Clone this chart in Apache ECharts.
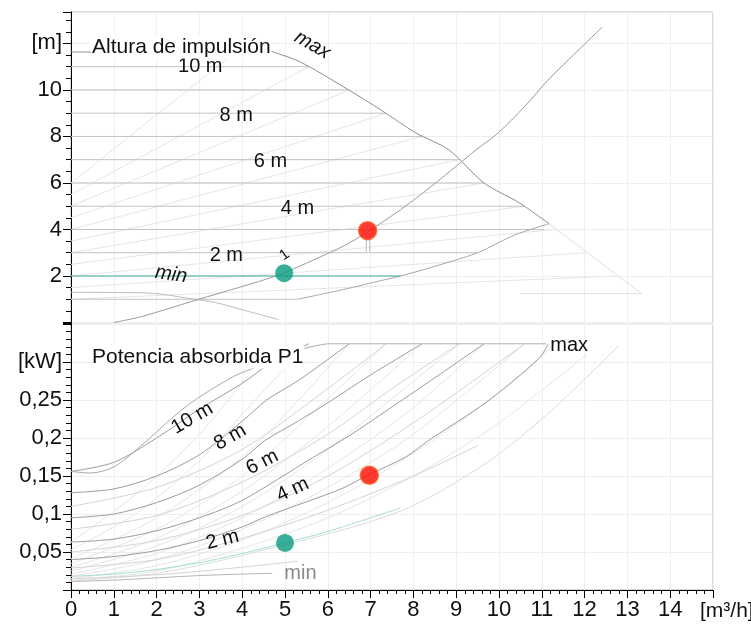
<!DOCTYPE html>
<html>
<head>
<meta charset="utf-8">
<script src="https://cdn.jsdelivr.net/npm/echarts@6/dist/echarts.min.js"></script>
<style>
  html, body { margin: 0; padding: 0; background: #fff; }
  #chart { width: 751px; height: 626px; }
</style>
</head>
<body>
<div id="chart"></div>
<script>
// ---------- Head panel: H [m] over Q [m³/h] ----------
// constant-pressure set points and the flow where each line ends
const constHeads = [1, 2, 3, 4, 5, 6, 7, 8, 9, 10, 11];
const constHeadEndFlow = [5.3, 7.7, 9.5, 11.05, 10.6, 9.65, 9.07, 8.2, 7.36, 6.5, 5.55];

// variable-pressure lines: head at zero flow, set head, flow at the set head
const varSetHeads = [2, 3, 4, 5, 6, 7, 8, 9, 10, 11, 12];
const varStartHeads = [1, 1.5, 2, 2.5, 3, 3.5, 4, 4.5, 5, 5.5, 6];
const varEndFlow = [12.75, 12.05, 11.3, 10.6, 9.65, 9.07, 8.2, 7.36, 6.5, 5.55, 4.1];

const maxHeadCurve = [[0, 11.63], [0.6, 11.63], [1.5, 12.0], [2.8, 12.19], [3.3, 12.2], [4.0, 12.1],
  [4.73, 11.63], [5.36, 11.2], [6.37, 10.13], [7.24, 9.14], [8.06, 8.15], [8.83, 7.42],
  [9.65, 6.0], [10.47, 5.15], [11.17, 4.25]];
const maxHeadExtension = [[11.17, 4.25], [13.33, 1.24]];
const lowHeadLimit = [[10.5, 1.24], [13.33, 1.24]];
const lowerBoundary = [[5.3, 1.0], [6.37, 1.42], [7.24, 1.8], [7.7, 2.0], [8.4, 2.36], [9.5, 3.0],
  [10.35, 3.75], [11.17, 4.25]];
const minHeadCurve = [[0, 1.3], [1, 1.29], [1.97, 1.25], [2.7, 1.05], [3.37, 0.86], [4.1, 0.5], [4.85, 0.13]];
const systemCurve = [[1.0, 0], [1.66, 0.26], [2.97, 0.99], [3.91, 1.5], [4.54, 1.85], [4.96, 2.12],
  [6.37, 3.29], [6.93, 3.9], [7.7, 4.85], [8.41, 5.84], [9.04, 6.78], [9.46, 7.42], [9.98, 8.15],
  [10.59, 9.27], [11.15, 10.43], [11.62, 11.29], [12.41, 12.7]];
const dutyStemA = [[6.9, 3.05], [6.9, 3.85]];
const dutyStemB = [[6.98, 3.05], [6.98, 3.85]];

const headPointMin = [4.98, 2.12];
const headPointDuty = [6.93, 3.95];

// ---------- Power panel: P1 [kW] over Q [m³/h] ----------
const powerMax = [[0, 0.156], [0.45, 0.154], [1.0, 0.162], [1.6, 0.188], [2.7, 0.242], [3.8, 0.281],
  [4.4, 0.295], [5.0, 0.309], [5.6, 0.32], [6.0, 0.324]];
const powerLimit = [[6.0, 0.324], [11.1, 0.324]];
const powerMin = [[0, 0.011], [1, 0.013], [2, 0.016], [3, 0.019], [4, 0.021], [4.7, 0.022]];
const power1m = [[0, 0.015], [2, 0.02], [4, 0.03], [5.3, 0.038]];
const power2m = [[0, 0.018], [1, 0.021], [2, 0.027], [3, 0.036], [4, 0.048], [5, 0.062], [6, 0.077], [7, 0.095], [7.7, 0.108]];
const power3m = [[0, 0.029], [2, 0.04], [4, 0.068], [6, 0.105], [8, 0.15], [9.5, 0.19]];
const power4m = [[0, 0.04], [1, 0.044], [2, 0.052], [3, 0.065], [4, 0.083], [4.55, 0.0965], [5.5, 0.116],
  [6.35, 0.134], [6.93, 0.151], [7.82, 0.175], [8.36, 0.197], [9.7, 0.247], [10.94, 0.305], [11.15, 0.324]];
const power5m = [[0, 0.05], [2, 0.065], [4, 0.098], [6, 0.15], [8, 0.22], [10.6, 0.324]];
const power6m = [[0, 0.063], [1, 0.067], [2, 0.078], [3, 0.095], [4, 0.118], [5.64, 0.174], [6.5, 0.203],
  [7.66, 0.247], [8.7, 0.287], [9.65, 0.324]];
const power7m = [[0, 0.08], [2, 0.098], [4, 0.142], [6, 0.205], [7.5, 0.265], [9.07, 0.324]];
const power8m = [[0, 0.095], [1, 0.1], [2, 0.115], [3, 0.138], [4, 0.172], [4.54, 0.197], [5.3, 0.222],
  [6.1, 0.25], [7, 0.283], [8.2, 0.324]];
const power9m = [[0, 0.11], [2, 0.135], [4, 0.185], [6, 0.265], [7.36, 0.324]];
const power10m = [[0, 0.128], [1, 0.133], [2, 0.15], [3, 0.178], [4, 0.222], [4.57, 0.25], [5.32, 0.276], [6.5, 0.324]];
const power11m = [[0, 0.156], [1, 0.168], [2, 0.2], [3, 0.238], [4, 0.272], [4.7, 0.3], [5.55, 0.324]];

const powerVar12 = [[0, 0.063], [1.5, 0.125], [3, 0.205], [4.1, 0.28]];
const powerVar11 = [[0, 0.053], [1.5, 0.1], [3, 0.17], [4.3, 0.25], [5.55, 0.324]];
const powerVar10 = [[0, 0.041], [2, 0.095], [4, 0.175], [5.4, 0.255], [6.5, 0.324]];
const powerVar9 = [[0, 0.035], [2, 0.08], [4, 0.15], [6, 0.252], [7.36, 0.324]];
const powerVar8 = [[0, 0.03], [2, 0.068], [4, 0.13], [6, 0.215], [8.2, 0.324]];
const powerVar7 = [[0, 0.025], [2, 0.058], [4, 0.11], [6, 0.185], [9.07, 0.324]];
const powerVar6 = [[0, 0.021], [2, 0.048], [4, 0.095], [6, 0.16], [8, 0.24], [9.65, 0.324]];
const powerVar5 = [[0, 0.018], [2, 0.04], [4, 0.08], [6, 0.135], [8, 0.205], [10.6, 0.324]];
const powerVar4 = [[0, 0.015], [2, 0.032], [4, 0.066], [6, 0.115], [8, 0.18], [10, 0.26], [11.3, 0.324]];
const powerVar3 = [[0, 0.013], [2, 0.025], [4, 0.055], [6, 0.095], [8, 0.15], [10, 0.22], [12.05, 0.31]];
const powerVar2 = [[0, 0.012], [2, 0.022], [4.54, 0.053], [7.66, 0.103], [9.7, 0.167], [11.3, 0.24], [12.8, 0.322]];

const powerPointMin = [5.0, 0.062];
const powerPointDuty = [6.97, 0.151];

// ---------- chart ----------
const FONT = "'Liberation Sans', Arial, Helvetica, sans-serif";
const TEAL = '#0a9a80';
const RED = '#ff0a00';
const RED_RING = '#ff5a1e';

function curve(data, panel, color, width, z, smooth) {
  return {
    type: 'line', xAxisIndex: panel, yAxisIndex: panel, data: data,
    symbol: 'none', silent: true, animation: false, clip: true,
    smooth: smooth ? 0.3 : false,
    lineStyle: { color: color, width: width || 1 }, z: z || 2
  };
}
function dot(point, panel, fill, border) {
  return {
    type: 'scatter', xAxisIndex: panel, yAxisIndex: panel, data: [point],
    symbolSize: 18, silent: true, animation: false, z: 10,
    itemStyle: { color: fill, borderColor: border || fill, borderWidth: border ? 1.5 : 0 }
  };
}

const series = [];
// head panel: variable-pressure lines (faint)
varSetHeads.forEach(function (h, i) {
  series.push(curve([[0, varStartHeads[i]], [varEndFlow[i], h]], 0, '#e6e6e6', 1, 1));
});
// head panel: constant-pressure lines
constHeads.forEach(function (h, i) {
  const isMin = h === 2;
  series.push(curve([[0, h], [constHeadEndFlow[i], h]], 0, isMin ? '#3aaa98' : '#c2c2c2', 1, isMin ? 4 : 2));
});
series.push(curve(maxHeadCurve, 0, '#8e8e8e', 1, 3, true));
series.push(curve(maxHeadExtension, 0, '#e0e0e0', 1, 2));
series.push(curve(lowHeadLimit, 0, '#e0e0e0', 1, 2));
series.push(curve(lowerBoundary, 0, '#a8a8a8', 1, 3, true));
series.push(curve(minHeadCurve, 0, '#bdbdbd', 1, 3, true));
series.push(curve(systemCurve, 0, '#9a9a9a', 1, 3, true));
series.push(curve(dutyStemA, 0, '#bbbbbb', 1, 3));
series.push(curve(dutyStemB, 0, '#bbbbbb', 1, 3));
series.push(dot(headPointMin, 0, TEAL));
series.push(dot(headPointDuty, 0, RED, RED_RING));

// power panel: variable-pressure power (faint)
[powerVar12, powerVar11, powerVar10, powerVar9, powerVar8, powerVar7, powerVar6, powerVar5,
  powerVar4, powerVar3].forEach(function (d) { series.push(curve(d, 1, '#e6e6e6', 1, 1, true)); });
series.push(curve(powerVar2, 1, '#dcdcdc', 1, 1, true));
// power panel: odd set points (light)
[power1m, power3m, power5m, power7m, power9m].forEach(function (d) { series.push(curve(d, 1, '#d4d4d4', 1, 2, true)); });
// power panel: labelled set points
[power4m, power6m, power8m, power10m, power11m].forEach(function (d) { series.push(curve(d, 1, '#9c9c9c', 1, 3, true)); });
series.push(curve(power2m, 1, '#a6ddd2', 1, 4, true));
series.push(curve(powerMax, 1, '#a9a9a9', 1, 3, true));
series.push(curve(powerLimit, 1, '#b0b0b0', 1, 3));
series.push(curve(powerMin, 1, '#b5b5b5', 1, 3, true));
series.push(dot(powerPointMin, 1, TEAL));
series.push(dot(powerPointDuty, 1, RED, RED_RING));

function decimalComma(v) {
  return String(Math.round(v * 100) / 100).replace('.', ',');
}

const axisText = { color: '#111', fontSize: 22, fontFamily: FONT };
const blackLine = { lineStyle: { color: '#000', width: 1 } };

const option = {
  animation: false,
  backgroundColor: '#fff',
  grid: [
    { left: 71, top: 12, width: 642, height: 310.5, show: true, borderColor: '#b3b3b3', borderWidth: 1 },
    { left: 71, top: 323.5, width: 642, height: 266.5, show: true, borderColor: '#b3b3b3', borderWidth: 1 }
  ],
  xAxis: [
    {
      gridIndex: 0, type: 'value', min: 0, max: 15, interval: 1,
      axisLine: { show: false }, axisTick: { show: false }, axisLabel: { show: false },
      splitLine: { show: true, lineStyle: { color: '#f0f0f0' } }
    },
    {
      gridIndex: 1, type: 'value', min: 0, max: 15, interval: 1,
      axisLine: { show: true, onZero: false, lineStyle: { color: '#000', width: 1 } },
      axisTick: { show: true, length: 8, lineStyle: { color: '#000' } },
      minorTick: { show: true, splitNumber: 5, length: 4, lineStyle: { color: '#000' } },
      axisLabel: Object.assign({ margin: 9, formatter: function (v) { return v >= 15 ? '' : String(v); } }, axisText),
      splitLine: { show: true, lineStyle: { color: '#f0f0f0' } }
    }
  ],
  yAxis: [
    {
      gridIndex: 0, type: 'value', min: 0, max: 13.35, interval: 2,
      axisLine: Object.assign({ show: true, onZero: false }, blackLine),
      axisTick: { show: true, length: 8, lineStyle: { color: '#000' } },
      minorTick: { show: true, splitNumber: 4, length: 5, lineStyle: { color: '#000' } },
      axisLabel: Object.assign({
        margin: 9,
        formatter: function (v) {
          if (Math.abs(v - 12) < 1e-6) return '[m]';
          if (v < 1e-6 || Math.abs(v - Math.round(v)) > 1e-6 || Math.round(v) % 2) return '';
          return String(Math.round(v));
        }
      }, axisText),
      splitLine: { show: true, lineStyle: { color: '#eeeeee' } }
    },
    {
      gridIndex: 1, type: 'value', min: 0, max: 0.3507, interval: 0.05,
      axisLine: Object.assign({ show: true, onZero: false }, blackLine),
      axisTick: { show: true, length: 8, lineStyle: { color: '#000' } },
      minorTick: { show: true, splitNumber: 5, length: 5, lineStyle: { color: '#000' } },
      axisLabel: Object.assign({
        margin: 9,
        formatter: function (v) {
          if (Math.abs(v - 0.3) < 1e-6) return '[kW]';
          const r = Math.round(v * 100) / 100;
          if (r < 1e-6 || r > 0.3 || Math.abs(v * 20 - Math.round(v * 20)) > 1e-6) return '';
          return decimalComma(r);
        }
      }, axisText),
      splitLine: { show: true, lineStyle: { color: '#eeeeee' } }
    }
  ],
  series: series
};

const chart = echarts.init(document.getElementById('chart'), null, { renderer: 'canvas' });
chart.setOption(option);

// ---------- text annotations ----------
// [text, flow, value, rotation in degrees, italic, size, colour]
const headNotes = [
  ['10 m', 3.02, 10.99, 0, false, 20, '#111'],
  ['8 m', 3.86, 8.88, 0, false, 20, '#111'],
  ['6 m', 4.66, 6.91, 0, false, 20, '#111'],
  ['4 m', 5.29, 4.89, 0, false, 20, '#111'],
  ['2 m', 3.63, 2.88, 0, false, 20, '#111'],
  ['max', 5.64, 11.93, -30, true, 20, '#111'],
  ['min', 2.34, 2.06, -8, true, 20, '#111'],
  ['1', 4.99, 2.9, 35, false, 15, '#111']
];
const powerNotes = [
  ['10 m', 2.83, 0.226, 30, false, 20, '#111'],
  ['8 m', 3.72, 0.201, 30, false, 20, '#111'],
  ['6 m', 4.47, 0.168, 27, false, 20, '#111'],
  ['4 m', 5.18, 0.132, 25, false, 20, '#111'],
  ['2 m', 3.54, 0.066, 14, false, 20, '#111'],
  ['max', 11.64, 0.322, 0, false, 20, '#111'],
  ['min', 5.36, 0.022, 0, false, 20, '#8a8a8a']
];

function noteGraphic(n, panel) {
  const p = chart.convertToPixel({ xAxisIndex: panel, yAxisIndex: panel }, [n[1], n[2]]);
  return {
    type: 'text', x: p[0], y: p[1], rotation: n[3] * Math.PI / 180, z: 50, silent: true,
    style: {
      text: n[0], fill: n[6], align: 'center', verticalAlign: 'middle',
      font: (n[4] ? 'italic ' : '') + n[5] + 'px ' + FONT
    }
  };
}

const graphics = [];
headNotes.forEach(function (n) { graphics.push(noteGraphic(n, 0)); });
powerNotes.forEach(function (n) { graphics.push(noteGraphic(n, 1)); });
graphics.push({
  type: 'text', x: 91, y: 47, z: 60, silent: true,
  style: { text: 'Altura de impulsión', fill: '#111', align: 'left', verticalAlign: 'middle',
    font: '21px ' + FONT, backgroundColor: '#fff', padding: [1, 1] }
});
graphics.push({
  type: 'text', x: 91, y: 357, z: 60, silent: true,
  style: { text: 'Potencia absorbida P1', fill: '#111', align: 'left', verticalAlign: 'middle',
    font: '21px ' + FONT, backgroundColor: '#fff', padding: [1, 1] }
});
graphics.push({
  type: 'text', x: 700, y: 611, z: 60, silent: true,
  style: { text: '[m³/h]', fill: '#111', align: 'left', verticalAlign: 'middle', font: '21px ' + FONT }
});

chart.setOption({ graphic: graphics });
</script>
</body>
</html>
